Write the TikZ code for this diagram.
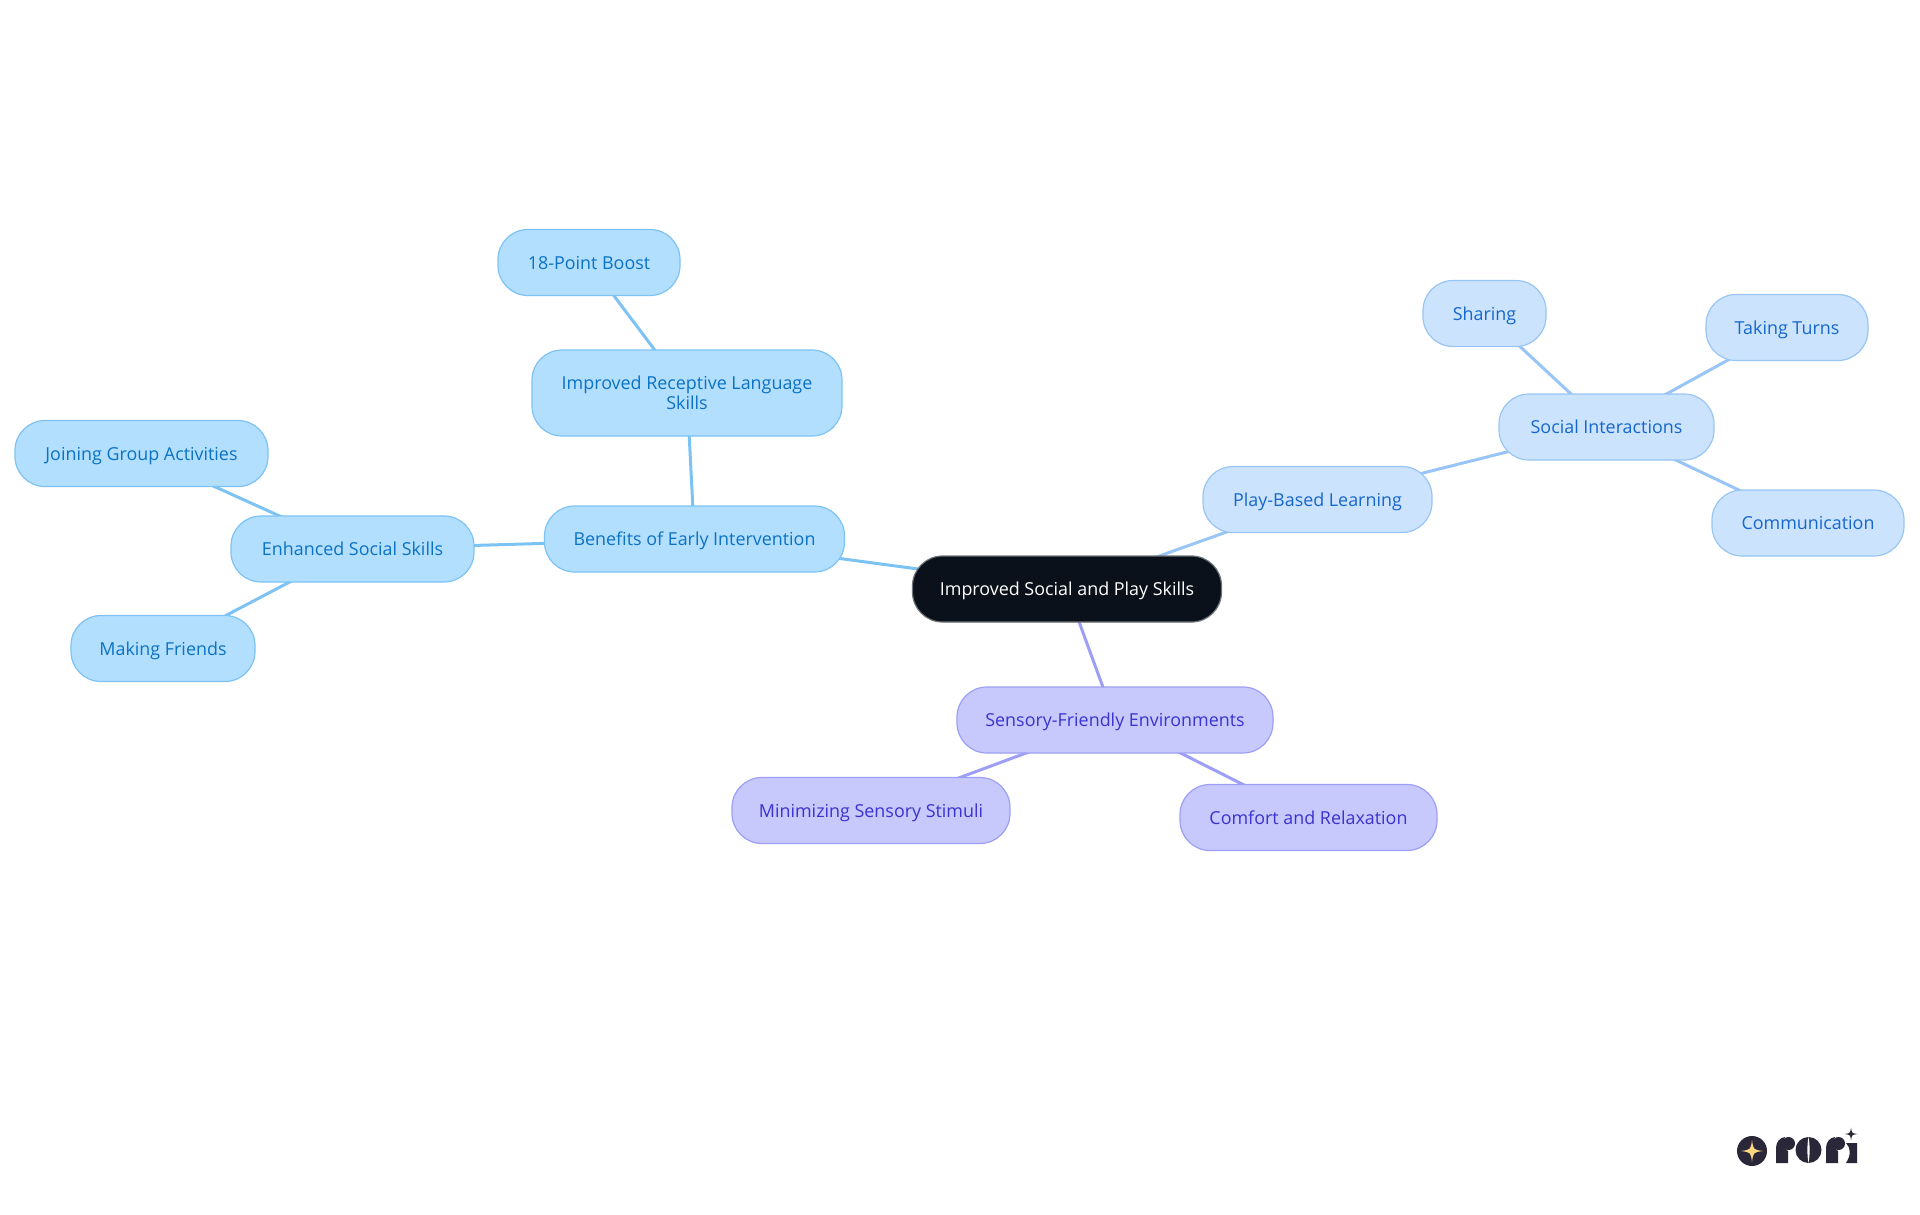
\documentclass[tikz,border=0pt]{standalone}
\usepackage{fontspec}
\usepackage{xcolor}
\setmainfont{Open Sans}
\usetikzlibrary{backgrounds}
\usetikzlibrary{positioning}

\definecolor{rootfill}{HTML}{0B111A}
\definecolor{rootedge}{HTML}{6E7379}
\definecolor{skyfill}{HTML}{B3DFFF}
\definecolor{skyedge}{HTML}{7CC3F3}
\definecolor{skytext}{HTML}{0B72C4}
\definecolor{palefill}{HTML}{CCE3FD}
\definecolor{paleedge}{HTML}{98C5F5}
\definecolor{paletext}{HTML}{1667CC}
\definecolor{violetfill}{HTML}{C7C9FD}
\definecolor{violetedge}{HTML}{9C9FF5}
\definecolor{violettext}{HTML}{3A33D0}
\definecolor{logodark}{HTML}{2A2838}
\definecolor{logostar}{HTML}{FBD780}

\newcommand{\sparkle}[4]{%
  \fill[#4] (#1, #2-#3) .. controls (#1+0.12*#3, #2-0.12*#3) .. (#1+#3, #2)
    .. controls (#1+0.12*#3, #2+0.12*#3) .. (#1, #2+#3)
    .. controls (#1-0.12*#3, #2+0.12*#3) .. (#1-#3, #2)
    .. controls (#1-0.12*#3, #2-0.12*#3) .. (#1, #2-#3) -- cycle;
}
\newcommand{\logor}[1]{%
  \fill[logodark] (#1, 1163) -- (#1, 1148) .. controls (#1, 1142) and (#1+4, 1137.5) .. (#1+9, 1137)
    .. controls (#1+6, 1142) and (#1+6, 1148) .. (#1+12, 1151) -- (#1+12, 1163) -- cycle;
  \fill[logodark] (#1+12.5, 1143.5) circle (6.5);
}

\tikzset{
  mmbox/.style={rectangle, rounded corners=30pt, line width=1.2pt, inner sep=0pt,
    minimum height=66pt, align=center, text height=17pt, text depth=4pt,
    font=\fontsize{17.9}{20}\selectfont},
  rootbox/.style={mmbox, draw=rootedge, fill=rootfill, text=white},
  skybox/.style={mmbox, draw=skyedge, fill=skyfill, text=skytext},
  palebox/.style={mmbox, draw=paleedge, fill=palefill, text=paletext},
  violetbox/.style={mmbox, draw=violetedge, fill=violetfill, text=violettext},
  mmlink/.style={line width=3pt}
}

\begin{document}
\begin{tikzpicture}[x=1pt, y=-1pt]
  \useasboundingbox (0, 0) rectangle (1920, 1215);

  \node[rootbox, minimum width=309pt] (root) at (1067, 589) {Improved Social and Play Skills};

  \node[skybox, minimum width=300pt] (benefits) at (694.5, 539) {Benefits of Early Intervention};
  \node[skybox, minimum width=310pt, minimum height=86pt, text height=, text depth=] (receptive) at (687, 393) {Improved Receptive Language\\Skills};
  \node[skybox, minimum width=182pt] (boost) at (589, 262.5) {18-Point Boost};
  \node[skybox, minimum width=243pt] (social) at (352.5, 549) {Enhanced Social Skills};
  \node[skybox, minimum width=253pt] (joining) at (141.5, 453.5) {Joining Group Activities};
  \node[skybox, minimum width=184pt] (friends) at (163, 648.5) {Making Friends};

  \node[palebox, minimum width=229pt] (play) at (1317.5, 499.5) {Play-Based Learning};
  \node[palebox, minimum width=215pt] (interact) at (1606.5, 427) {Social Interactions};
  \node[palebox, minimum width=123pt] (sharing) at (1484.5, 313.5) {Sharing};
  \node[palebox, minimum width=162pt] (turns) at (1787, 327.5) {Taking Turns};
  \node[palebox, minimum width=192pt] (talk) at (1808, 523) {Communication};

  \node[violetbox, minimum width=316pt] (sensory) at (1115, 720) {Sensory-Friendly Environments};
  \node[violetbox, minimum width=278pt] (stimuli) at (871, 810.5) {Minimizing Sensory Stimuli};
  \node[violetbox, minimum width=257pt] (comfort) at (1308.5, 817.5) {Comfort and Relaxation};

  \begin{scope}[on background layer]
    \foreach \a/\b in {root/benefits, benefits/receptive, receptive/boost, benefits/social, social/joining, social/friends}
    \draw[mmlink, skyedge] (\a.center) -- (\b.center);
    \foreach \a/\b in {root/play, play/interact, interact/sharing, interact/turns, interact/talk}
    \draw[mmlink, paleedge] (\a.center) -- (\b.center);
    \foreach \a/\b in {root/sensory, sensory/stimuli, sensory/comfort}
    \draw[mmlink, violetedge] (\a.center) -- (\b.center);
  \end{scope}

  \begin{scope}
    \fill[logodark] (1752, 1151) circle (15);
    \sparkle{1752}{1151}{11}{logostar}
    \sparkle{1851}{1134}{6.5}{logodark}
    \logor{1776}
    \fill[logodark] (1808.5, 1150) circle (13);
    \fill[white] (1808.5, 1137) .. controls (1807, 1145) and (1807, 1155) .. (1808.5, 1163)
      .. controls (1810, 1155) and (1810, 1145) .. (1808.5, 1137) -- cycle;
    \logor{1826}
    \fill[logodark] (1846, 1143) -- (1857, 1143) -- (1857, 1163) -- (1846, 1163)
      .. controls (1851, 1155) and (1851, 1148) .. (1846, 1143) -- cycle;
  \end{scope}
\end{tikzpicture}
\end{document}
